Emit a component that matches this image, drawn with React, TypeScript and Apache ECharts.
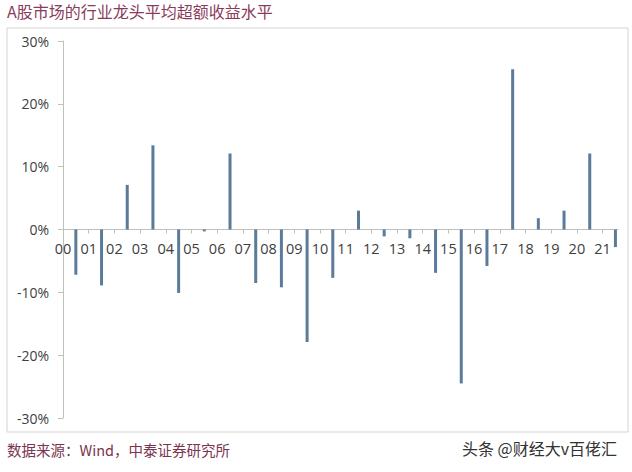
import React, { useEffect, useRef } from "react";
import * as echarts from "echarts";

const years = ["00","01","02","03","04","05","06","07","08","09","10","11","12","13","14","15","16","17","18","19","20","21"];
const excessReturn = [-7.2, -8.9, 7.1, 13.4, -10.1, -0.3, 12.1, -8.5, -9.2, -17.9, -7.7, 3.0, -1.1, -1.4, -6.9, -24.5, -5.8, 25.5, 1.8, 3.0, 12.1, -2.8];
const yTicks = [-30, -20, -10, 0, 10, 20, 30];

const titleText = "A股市场的行业龙头平均超额收益水平";
const sourceText = "数据来源：Wind，中泰证券研究所";
const watermark = "头条 @财经大v百佬汇";

export default function App() {
  const ref = useRef<HTMLDivElement>(null);
  useEffect(() => {
    if (!ref.current) return;
    const chart = echarts.init(ref.current, null, { renderer: "svg" });
    const numFont = "'Open Sans', 'Noto Sans CJK SC', sans-serif";
    const cjkFont = "'Noto Sans CJK SC', sans-serif";
    const gridTop = 41;
    const gridBottom = 54;
    const plotH = 472 - gridTop - gridBottom;
    const yMin = yTicks[0];
    const yMax = yTicks[yTicks.length - 1];
    const zeroOffset = -plotH * (0 - yMin) / (yMax - yMin);
    chart.setOption({
      animation: false,
      backgroundColor: "#ffffff",
      grid: { left: 63, right: 14, top: gridTop, bottom: gridBottom, containLabel: false },
      graphic: [
        {
          type: "rect",
          shape: { x: 7, y: 28, width: 621, height: 404 },
          style: { fill: "none", stroke: "#d4d4d4", lineWidth: 1 },
          silent: true,
        },
        {
          type: "text",
          left: 7,
          top: 3,
          style: { text: titleText, fill: "#8a3b5c", font: `16px ${cjkFont}` },
        },
        {
          type: "text",
          left: 7,
          top: 442,
          style: { text: sourceText, fill: "#7a3450", font: `14.5px ${cjkFont}` },
        },
        {
          type: "text",
          right: 15,
          top: 440,
          style: { text: watermark, fill: "#333333", font: `16px ${cjkFont}` },
        },
      ],
      xAxis: {
        type: "value",
        position: "bottom",
        offset: zeroOffset,
        min: 0,
        max: 21.6,
        interval: 1,
        splitLine: { show: false },
        axisLine: { show: true, onZero: false, lineStyle: { color: "#bfbfbf", width: 1 } },
        axisTick: { show: true, inside: false, length: 4, lineStyle: { color: "#bfbfbf" } },
        axisLabel: {
          show: true,
          margin: 12,
          color: "#404040",
          fontSize: 14.5,
          fontFamily: numFont,
          showMaxLabel: false,
          formatter: (v: number) => {
            const i = Math.round(v);
            return Math.abs(v - i) < 1e-6 && i < years.length ? years[i] : "";
          },
        },
      },
      yAxis: {
        type: "value",
        min: yMin,
        max: yMax,
        interval: 10,
        splitLine: { show: false },
        axisLine: { show: true, lineStyle: { color: "#bfbfbf", width: 1 } },
        axisTick: { show: true, length: 5, lineStyle: { color: "#bfbfbf" } },
        axisLabel: {
          margin: 14,
          color: "#404040",
          fontSize: 14,
          fontFamily: numFont,
          formatter: (v: number) => `${v}%`,
        },
      },
      series: [
        {
          type: "bar",
          barWidth: 3,
          itemStyle: { color: "#5b7b9b" },
          data: excessReturn.map((v, i) => [i + 0.5, v]),
        },
      ],
    });
    return () => chart.dispose();
  }, []);
  return <div ref={ref} style={{ width: 632, height: 472, position: "absolute", left: 0, top: 0 }} />;
}
